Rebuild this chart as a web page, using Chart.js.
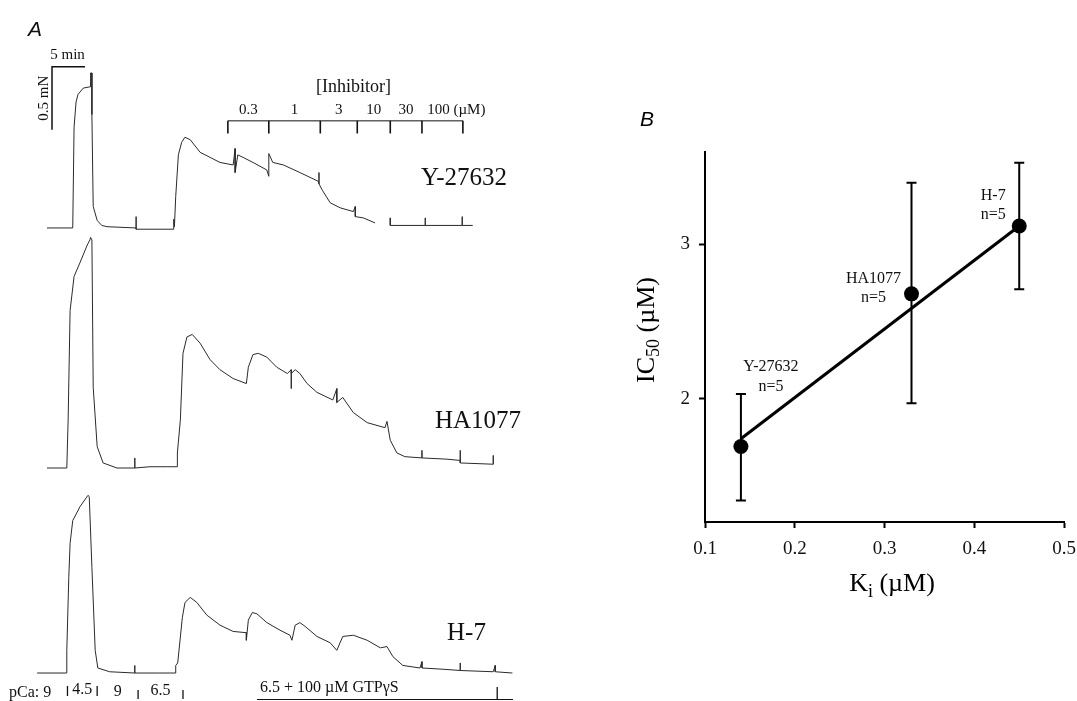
<!DOCTYPE html>
<html>
<head>
<meta charset="utf-8">
<script src="https://cdn.jsdelivr.net/npm/chart.js@4"></script>
<style>
  html, body { margin: 0; padding: 0; background: #fff; width: 1077px; height: 701px; overflow: hidden; }
  canvas { position: absolute; }
  #panelA { left: 0; top: 0; }
  #panelB { left: 600px; top: 100px; }
</style>
</head>
<body>
<canvas id="panelA" width="620" height="701"></canvas>
<canvas id="panelB" width="486" height="500"></canvas>
<script>
// ---- Panel A: tension records, time in min, tension in mN above each record's baseline
const y27632Time = [0, 3.9, 4.1, 4.4, 4.7, 5.5, 6.5, 6.6, 6.6, 6.8, 6.8, 7.0, 7.6, 8.3, 9.1, 13.5, 13.5, 13.5, 19.2, 19.2, 19.3,
  19.5, 19.9, 20.4, 20.9, 21.7, 23.2, 24.7, 26.2, 28.2, 28.5, 28.5, 28.9, 29.7, 31.2, 33.3, 33.6, 33.6, 34.2, 35.8,
  38.3, 41.1, 41.2, 41.2, 41.7, 42.9, 44.4, 46.4, 46.7, 46.7, 47.9, 49.7, 50.8, 52.0, 52.0, 57.3, 57.3, 57.3,
  62.9, 62.9, 62.9, 64.5];
const y27632Force = [0, 0, 0.80, 1.00, 1.06, 1.11, 1.12, 1.12, 1.23, 1.23, 0.90, 0.17, 0.06, 0.02, 0.01, 0, 0.09, -0.01, -0.01, 0.07, 0.01,
  0.25, 0.58, 0.68, 0.72, 0.70, 0.60, 0.56, 0.52, 0.50, 0.63, 0.44, 0.58, 0.56, 0.52, 0.46, 0.41, 0.59, 0.52, 0.50,
  0.44, 0.37, 0.44, 0.35, 0.30, 0.20, 0.16, 0.13, 0.17, 0.09, 0.08, 0.04, null, 0.08, 0.02, 0.02, 0.08, 0.02,
  0.02, 0.09, 0.02, 0.02];

const ha1077Time = [0, 3.0, 3.2, 3.5, 4.1, 5.0, 6.1, 6.5, 6.6, 6.8, 7.0, 7.6, 8.5, 10.6, 13.3, 13.3, 13.3, 15.6, 18.2,
  19.7, 19.7, 19.8, 20.2, 20.6, 21.2, 22.0, 23.2, 24.7, 26.2, 28.2, 30.2, 30.5, 31.2, 32.0, 33.3, 34.8, 36.4,
  37.0, 37.0, 37.0, 37.6, 38.3, 39.4, 40.9, 43.3, 43.9, 43.9, 44.8, 46.4, 48.5, 51.2, 51.5, 52.0, 53.0, 54.2,
  56.8, 56.8, 56.8, 60.6, 62.6, 62.6, 62.6, 67.6, 67.6, 67.6];
const ha1077Force = [0, 0, 0.38, 1.25, 1.52, 1.63, 1.77, 1.81, 1.83, 1.81, 0.64, 0.17, 0.04, 0, 0, 0.08, 0, 0.01, 0.01,
  0.01, 0.09, 0.12, 0.38, 0.91, 1.04, 1.06, 0.99, 0.86, 0.78, 0.71, 0.67, 0.80, 0.90, 0.91, 0.88, 0.80, 0.75,
  0.78, 0.63, 0.75, 0.78, 0.75, 0.67, 0.60, 0.54, 0.63, 0.52, 0.56, 0.44, 0.36, 0.32, 0.37, 0.22, 0.12, 0.09,
  0.08, 0.14, 0.08, 0.07, 0.06, 0.14, 0.04, 0.03, 0.10, 0.03];

const h7Time = [-1.5, 2.9, 3.0, 3.3, 3.5, 3.9, 5.0, 6.2, 6.4, 6.8, 7.3, 7.7, 9.5, 13.3, 13.3, 13.3, 16.7, 19.4, 19.5,
  19.8, 20.5, 20.9, 21.7, 22.7, 24.2, 26.2, 28.2, 30.2, 30.2, 30.5, 31.1, 31.8, 33.3, 35.3, 36.8, 37.1, 37.6,
  38.3, 39.1, 40.9, 42.9, 43.9, 44.8, 46.4, 48.5, 50.5, 51.5, 52.4, 53.9, 56.5, 56.8, 56.8, 60.0, 62.6, 62.6,
  62.6, 67.6, 67.9, 67.9, 70.5];
const h7Force = [0, 0, 0.18, 0.76, 1.03, 1.21, 1.32, 1.41, 1.40, 0.84, 0.18, 0.04, 0.01, 0, 0.06, 0, 0, 0, 0.06,
  0.08, 0.44, 0.56, 0.60, 0.56, 0.46, 0.38, 0.33, 0.32, 0.26, 0.42, 0.48, 0.47, 0.40, 0.34, 0.30, 0.26, 0.38,
  0.40, 0.37, 0.29, 0.24, 0.18, 0.29, 0.30, 0.26, 0.20, 0.21, 0.13, 0.06, 0.04, 0.09, 0.04, 0.03, 0.02, 0.08,
  0.02, 0.01, 0.06, 0.01, 0];

const recordNames = ['Y-27632', 'HA1077', 'H-7'];
// inhibitor additions (min) and concentrations (µM)
const doseTimes = [27.4, 33.6, 41.4, 47.0, 52.0, 56.8, 63.0];
const doseLabels = ['0.3', '1', '3', '10', '30', '100'];
// solution changes at the bottom of the records (min)
const pCaTimes = [3.1, 7.6, 13.8, 20.6];
const pCaLabels = ['9', '4.5', '9', '6.5'];
const gtpEndTime = 68.2;

// ---- Panel B: Ki vs IC50
const kiValues = [0.14, 0.33, 0.45];
const ic50Values = [1.69, 2.68, 3.12];
const ic50Upper = [2.03, 3.40, 3.53];
const ic50Lower = [1.34, 1.97, 2.71];
const drugNames = ['Y-27632', 'HA1077', 'H-7'];
const nValues = [5, 5, 5];
const fitKi = [0.14, 0.45];
const fitIc50 = [1.74, 3.12];
const kiTicks = [0.1, 0.2, 0.3, 0.4, 0.5];
const ic50Ticks = [2, 3];

// layout bits
const traceOffsets = [3.754, 1.849, 0.222];
const serif = '"Liberation Serif", "Times New Roman", serif';
const sans = '"Liberation Sans", Arial, sans-serif';

function toPoints(times, forces, off) {
  return times.map((t, i) => ({ x: t, y: forces[i] === null ? null : forces[i] + off }));
}

const annotA = {
  id: 'annotA',
  afterDatasetsDraw(chart) {
    const { ctx, scales: { x, y } } = chart;
    const off = traceOffsets[0];
    ctx.save();
    ctx.strokeStyle = '#111';
    ctx.fillStyle = '#111';

    // panel letter
    ctx.font = 'italic 21px ' + sans;
    ctx.textBaseline = 'alphabetic';
    ctx.textAlign = 'left';
    ctx.fillText('A', 28, 36);

    // scale bars: 5 min and 0.5 mN
    const sx0 = x.getPixelForValue(0.76), sx1 = x.getPixelForValue(5.76);
    const sy0 = y.getPixelForValue(off + 1.28), sy1 = y.getPixelForValue(off + 0.78);
    ctx.lineWidth = 1.5;
    ctx.beginPath();
    ctx.moveTo(sx1, sy0); ctx.lineTo(sx0, sy0); ctx.lineTo(sx0, sy1);
    ctx.stroke();
    ctx.font = '15px ' + serif;
    ctx.textAlign = 'center';
    ctx.textBaseline = 'middle';
    ctx.fillText('5 min', (sx0 + sx1) / 2 - 1, sy0 - 12);
    ctx.save();
    ctx.translate(sx0 - 8, (sy0 + sy1) / 2);
    ctx.rotate(-Math.PI / 2);
    ctx.fillText('0.5 mN', 0, 0);
    ctx.restore();

    // inhibitor bracket
    const bTop = y.getPixelForValue(off + 0.85);
    const bBot = y.getPixelForValue(off + 0.75);
    ctx.lineWidth = 1;
    ctx.beginPath();
    ctx.moveTo(x.getPixelForValue(doseTimes[0]), bTop);
    ctx.lineTo(x.getPixelForValue(doseTimes[doseTimes.length - 1]), bTop);
    ctx.stroke();
    ctx.lineWidth = 1.6;
    doseTimes.forEach(t => {
      const px = x.getPixelForValue(t);
      ctx.beginPath(); ctx.moveTo(px, bTop); ctx.lineTo(px, bBot); ctx.stroke();
    });
    ctx.font = '15px ' + serif;
    doseLabels.forEach((lab, i) => {
      const mid = (x.getPixelForValue(doseTimes[i]) + x.getPixelForValue(doseTimes[i + 1])) / 2;
      if (i === doseLabels.length - 1) {
        ctx.textAlign = 'left';
        ctx.fillText(lab + ' (\u00b5M)', mid - ctx.measureText(lab).width / 2 - 4, bTop - 11);
      } else {
        ctx.textAlign = 'center';
        ctx.fillText(lab, mid, bTop - 11);
      }
    });
    ctx.textAlign = 'center';
    ctx.font = '18px ' + serif;
    ctx.fillText('[Inhibitor]', (x.getPixelForValue(doseTimes[0]) + x.getPixelForValue(doseTimes[6])) / 2 + 8, bTop - 34);

    // record names
    ctx.font = '25px ' + serif;
    ctx.textAlign = 'left';
    ctx.fillText(recordNames[0], 421, 178);
    ctx.fillText(recordNames[1], 435, 421);
    ctx.fillText(recordNames[2], 447, 633);

    // solution bar at bottom
    ctx.font = '16px ' + serif;
    ctx.textBaseline = 'alphabetic';
    ctx.textAlign = 'left';
    ctx.fillText('pCa: ' + pCaLabels[0], 9, 697);
    ctx.textAlign = 'center';
    ctx.fillText(pCaLabels[1], (x.getPixelForValue(pCaTimes[0]) + x.getPixelForValue(pCaTimes[1])) / 2, 694);
    ctx.fillText(pCaLabels[2], (x.getPixelForValue(pCaTimes[1]) + x.getPixelForValue(pCaTimes[2])) / 2, 696);
    ctx.fillText(pCaLabels[3], (x.getPixelForValue(pCaTimes[2]) + x.getPixelForValue(pCaTimes[3])) / 2, 695);
    ctx.lineWidth = 1.3;
    pCaTimes.forEach((t, i) => {
      const px = x.getPixelForValue(t);
      ctx.beginPath();
      ctx.moveTo(px, i < 2 ? 686 : 690);
      ctx.lineTo(px, i < 2 ? 696 : 699);
      ctx.stroke();
    });
    ctx.textAlign = 'left';
    ctx.fillText('6.5 + 100 \u00b5M GTP\u03b3S', 260, 692);
    ctx.lineWidth = 1;
    ctx.beginPath();
    ctx.moveTo(257, 699.5);
    ctx.lineTo(x.getPixelForValue(70.6), 699.5);
    ctx.stroke();
    const ge = x.getPixelForValue(gtpEndTime);
    ctx.lineWidth = 1.3;
    ctx.beginPath(); ctx.moveTo(ge, 687); ctx.lineTo(ge, 700); ctx.stroke();
    ctx.restore();
  }
};

new Chart(document.getElementById('panelA'), {
  type: 'line',
  data: {
    datasets: [
      { data: toPoints(y27632Time, y27632Force, traceOffsets[0]) },
      { data: toPoints(ha1077Time, ha1077Force, traceOffsets[1]) },
      { data: toPoints(h7Time, h7Force, traceOffsets[2]) }
    ]
  },
  options: {
    responsive: false,
    animation: false,
    devicePixelRatio: 1,
    layout: { padding: 0, autoPadding: false },
    spanGaps: false,
    elements: {
      point: { radius: 0 },
      line: { borderWidth: 1, borderColor: '#2a2a2a', tension: 0 }
    },
    plugins: { legend: { display: false }, tooltip: { enabled: false } },
    scales: {
      x: { type: 'linear', display: false, min: -7.12, max: 86.8 },
      y: { type: 'linear', display: false, min: 0, max: 5.563 }
    }
  },
  plugins: [annotA]
});

// ---- Panel B
const labelOffsets = [[30, -80, -60], [-38, -15, 4], [-26, -30, -11]];

function drawParts(ctx, parts, cx, cy, rot) {
  ctx.save();
  ctx.translate(cx, cy);
  ctx.rotate(rot);
  let w = 0;
  parts.forEach(p => { ctx.font = p.size + 'px ' + serif; w += ctx.measureText(p.t).width; });
  let xx = -w / 2;
  ctx.textAlign = 'left';
  ctx.textBaseline = 'alphabetic';
  parts.forEach(p => {
    ctx.font = p.size + 'px ' + serif;
    ctx.fillText(p.t, xx, 9 + p.dy);
    xx += ctx.measureText(p.t).width;
  });
  ctx.restore();
}

const errorBars = {
  id: 'errorBars',
  beforeDatasetsDraw(chart) {
    const { ctx, scales: { x, y } } = chart;
    ctx.save();
    ctx.strokeStyle = '#000';
    ctx.lineWidth = 2;
    kiValues.forEach((k, i) => {
      const px = x.getPixelForValue(k);
      const hi = y.getPixelForValue(ic50Upper[i]);
      const lo = y.getPixelForValue(ic50Lower[i]);
      ctx.beginPath();
      ctx.moveTo(px, hi); ctx.lineTo(px, lo);
      ctx.moveTo(px - 5, hi); ctx.lineTo(px + 5, hi);
      ctx.moveTo(px - 5, lo); ctx.lineTo(px + 5, lo);
      ctx.stroke();
    });
    ctx.restore();
  },
  afterDraw(chart) {
    const { ctx, scales: { x, y } } = chart;
    ctx.save();
    ctx.fillStyle = '#111';
    ctx.font = '16px ' + serif;
    ctx.textAlign = 'center';
    ctx.textBaseline = 'middle';
    kiValues.forEach((k, i) => {
      const px = x.getPixelForValue(k) + labelOffsets[i][0];
      const py = y.getPixelForValue(ic50Values[i]);
      ctx.fillText(drugNames[i], px, py + labelOffsets[i][1]);
      ctx.fillText('n=' + nValues[i], px, py + labelOffsets[i][2]);
    });
    // axis titles
    ctx.fillStyle = '#000';
    drawParts(ctx, [{ t: 'IC', size: 26, dy: 0 }, { t: '50', size: 18, dy: 5 }, { t: ' (\u00b5M)', size: 26, dy: 0 }], 45, 230, -Math.PI / 2);
    drawParts(ctx, [{ t: 'K', size: 26, dy: 0 }, { t: 'i', size: 18, dy: 6 }, { t: ' (\u00b5M)', size: 26, dy: 0 }], 292, 482, 0);
    ctx.font = 'italic 21px ' + sans;
    ctx.textAlign = 'left';
    ctx.textBaseline = 'alphabetic';
    ctx.fillText('B', 40, 26);
    ctx.restore();
  }
};

const tickFont = { family: serif, size: 19 };

new Chart(document.getElementById('panelB'), {
  type: 'scatter',
  data: {
    datasets: [
      {
        data: kiValues.map((k, i) => ({ x: k, y: ic50Values[i] })),
        pointRadius: 7.5,
        pointBackgroundColor: '#000',
        pointBorderColor: '#000',
        pointBorderWidth: 0
      },
      {
        type: 'line',
        data: fitKi.map((k, i) => ({ x: k, y: fitIc50[i] })),
        borderColor: '#000',
        borderWidth: 3,
        pointRadius: 0
      }
    ]
  },
  options: {
    responsive: false,
    animation: false,
    devicePixelRatio: 1,
    layout: { padding: { left: 0, right: 0, top: 52, bottom: 0 }, autoPadding: false },
    plugins: { legend: { display: false }, tooltip: { enabled: false } },
    scales: {
      x: {
        type: 'linear', min: 0.1, max: 0.5,
        afterBuildTicks: a => { a.ticks = kiTicks.map(v => ({ value: v })); },
        afterFit: a => { a.height = 78; },
        ticks: { callback: v => v.toFixed(1), font: tickFont, color: '#111', padding: 10, maxRotation: 0, autoSkip: false },
        grid: { drawOnChartArea: false, drawTicks: true, tickLength: 6, tickWidth: 2, color: '#000' },
        border: { display: true, color: '#000', width: 2 }
      },
      y: {
        type: 'linear', min: 1.2, max: 3.6,
        afterBuildTicks: a => { a.ticks = ic50Ticks.map(v => ({ value: v })); },
        afterFit: a => { a.width = 105; },
        ticks: { callback: v => String(v), font: tickFont, color: '#111', padding: 9, autoSkip: false },
        grid: { drawOnChartArea: false, drawTicks: true, tickLength: 6, tickWidth: 2, color: '#000' },
        border: { display: true, color: '#000', width: 2 }
      }
    }
  },
  plugins: [errorBars]
});
</script>
</body>
</html>
